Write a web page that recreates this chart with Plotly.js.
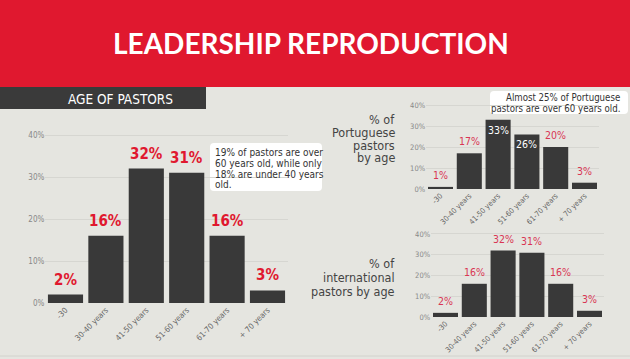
<!DOCTYPE html>
<html><head><meta charset="utf-8">
<script src="https://cdn.plot.ly/plotly-3.0.1.min.js"></script>
<style>html,body{margin:0;padding:0;background:#e5e5e0;overflow:hidden;}</style>
</head><body><div id="chart" style="width:630px;height:359px;"></div>
<script>
// ---- data ----
const categories = ['-30', '30-40 years', '41-50 years', '51-60 years', '61-70 years', '+ 70 years'];
const allPastors = [2, 16, 32, 31, 16, 3];
const portuguesePastors = [1, 17, 33, 26, 20, 3];
const internationalPastors = [2, 16, 32, 31, 16, 3];
const yTickVals = [0, 10, 20, 30, 40];
const yTickLabels = ['0%', '10%', '20%', '30%', '40%'];
const titleText = 'LEADERSHIP REPRODUCTION';
const sectionText = 'AGE OF PASTORS';
const mainNote = ['19% of pastors are over', '60 years old, while only', '18% are under 40 years', 'old.'];
const portNote = ['Almost 25% of Portuguese', 'pastors are over 60 years old.'];
const portLabel = ['% of', 'Portuguese', 'pastors', 'by age'];
const intlLabel = ['% of', 'international', 'pastors by age'];

// ---- helpers ----
const W = 630, H = 359;
const X = px => px / W;
const Y = py => 1 - py / H;
const NARROW = 'DejaVu Sans Condensed, Liberation Sans Narrow, sans-serif';
const RED = '#e0182f';
const RED_LIGHT = '#d93554';
const BAR = '#393939';
const BG = '#e5e5e0';

function roundRect(x0, y0, x1, y1, r) {
  const p = (x, y) => X(x) + ',' + Y(y);
  return 'M' + p(x0 + r, y0) + ' L' + p(x1 - r, y0) + ' Q' + p(x1, y0) + ' ' + p(x1, y0 + r) +
    ' L' + p(x1, y1 - r) + ' Q' + p(x1, y1) + ' ' + p(x1 - r, y1) +
    ' L' + p(x0 + r, y1) + ' Q' + p(x0, y1) + ' ' + p(x0, y1 - r) +
    ' L' + p(x0, y0 + r) + ' Q' + p(x0, y0) + ' ' + p(x0 + r, y0) + ' Z';
}

function barTrace(vals, xa, ya) {
  return {type: 'bar', x: categories, y: vals, xaxis: xa, yaxis: ya,
    marker: {color: BAR, line: {width: 0}}, hoverinfo: 'skip', showlegend: false};
}

function xAxis(l, r, anchor, fs) {
  return {type: 'category', categoryorder: 'array', categoryarray: categories,
    domain: [X(l), X(r)], anchor: anchor, tickangle: -45, showgrid: false, zeroline: false,
    showline: false, ticks: '', tickfont: {family: NARROW, size: fs, color: '#666666'}, fixedrange: true};
}
function yAxis(bottom, top, anchor, fs) {
  return {domain: [Y(bottom), Y(top)], anchor: anchor, range: [0, 41], tickvals: yTickVals,
    ticktext: yTickLabels, showgrid: true, gridcolor: '#d6d6d1', gridwidth: 1, zeroline: false,
    showline: false, ticks: '', tickfont: {family: NARROW, size: fs, color: '#888888'}, fixedrange: true};
}

const annotations = [];
function barLabels(vals, xr, yr, size, bold, insideMin, shiftOut, color) {
  vals.forEach((v, i) => {
    const inside = insideMin !== null && v >= insideMin;
    annotations.push({xref: xr, yref: yr, x: i, y: v,
      text: bold ? '<b>' + v + '%</b>' : v + '%', showarrow: false,
      yanchor: inside ? 'top' : 'bottom', yshift: inside ? -2 : shiftOut,
      font: {family: NARROW, size: size, color: inside ? '#ffffff' : color}});
  });
}
barLabels(allPastors, 'x', 'y', 15, true, null, 4, RED);
barLabels(portuguesePastors, 'x2', 'y2', 10.5, false, 25, 4, RED_LIGHT);
barLabels(internationalPastors, 'x3', 'y3', 10.5, false, null, 4, RED_LIGHT);

// title & section
annotations.push({xref: 'paper', yref: 'paper', x: X(311), y: Y(43), text: '<b>' + titleText + '</b>',
  showarrow: false, xanchor: 'center', yanchor: 'middle',
  font: {family: 'Lato, Open Sans, sans-serif', size: 28, color: '#ffffff', weight: 900}});
annotations.push({xref: 'paper', yref: 'paper', x: X(120), y: Y(99), text: sectionText,
  showarrow: false, xanchor: 'center', yanchor: 'middle',
  font: {family: NARROW, size: 13.5, color: '#ffffff'}});

// notes
const mainLineY = [152.7, 163.5, 174.2, 184.8];
mainNote.forEach((t, i) => annotations.push({xref: 'paper', yref: 'paper', x: X(213), y: Y(mainLineY[i]),
  text: t, showarrow: false, xanchor: 'left', yanchor: 'middle', font: {family: NARROW, size: 10, color: '#333333'}}));
const portNoteY = [97.5, 108];
portNote.forEach((t, i) => annotations.push({xref: 'paper', yref: 'paper', x: X(622), y: Y(portNoteY[i]),
  text: t, showarrow: false, xanchor: 'right', yanchor: 'middle', font: {family: NARROW, size: 9.6, color: '#333333'}}));
const portLabelY = [119.5, 132.5, 145, 157.5];
portLabel.forEach((t, i) => annotations.push({xref: 'paper', yref: 'paper', x: X(397), y: Y(portLabelY[i]),
  text: t, showarrow: false, xanchor: 'right', yanchor: 'middle', font: {family: NARROW, size: 12.5, color: '#444444'}}));
const intlLabelY = [263, 277, 291];
intlLabel.forEach((t, i) => annotations.push({xref: 'paper', yref: 'paper', x: X(397), y: Y(intlLabelY[i]),
  text: t, showarrow: false, xanchor: 'right', yanchor: 'middle', font: {family: NARROW, size: 12.5, color: '#444444'}}));

const shapes = [
  {type: 'rect', xref: 'paper', yref: 'paper', x0: 0, x1: 1, y0: Y(87), y1: 1, fillcolor: RED, line: {width: 0}, layer: 'below'},
  {type: 'rect', xref: 'paper', yref: 'paper', x0: 0, x1: X(206), y0: Y(109), y1: Y(87), fillcolor: '#3a3a3a', line: {width: 0}, layer: 'below'},
  {type: 'path', xref: 'paper', yref: 'paper', path: roundRect(210, 143, 322, 191, 4), fillcolor: '#ffffff', line: {width: 0}, layer: 'below'},
  {type: 'path', xref: 'paper', yref: 'paper', path: roundRect(490, 91, 628, 114, 4), fillcolor: '#ffffff', line: {width: 0}, layer: 'below'},
  {type: 'line', xref: 'paper', yref: 'paper', x0: 0, x1: 1, y0: Y(356), y1: Y(356), line: {color: '#d2d2cd', width: 1}, layer: 'below'}
];

const data = [
  barTrace(allPastors, 'x', 'y'),
  barTrace(portuguesePastors, 'x2', 'y2'),
  barTrace(internationalPastors, 'x3', 'y3')
];

const layout = {
  width: W, height: H, margin: {l: 0, r: 0, t: 0, b: 0},
  paper_bgcolor: BG, plot_bgcolor: 'rgba(0,0,0,0)', bargap: 0.13, showlegend: false,
  xaxis: xAxis(45.3, 287.7, 'y', 8),
  yaxis: yAxis(303, 130.8, 'x', 8),
  xaxis2: xAxis(426.1, 598.9, 'y2', 7.5),
  yaxis2: yAxis(189, 102.9, 'x2', 7.5),
  xaxis3: xAxis(431.1, 603.9, 'y3', 7.5),
  yaxis3: yAxis(317, 231.9, 'x3', 7.5),
  annotations: annotations, shapes: shapes
};

Plotly.newPlot('chart', data, layout, {staticPlot: true, displayModeBar: false});
</script></body></html>
